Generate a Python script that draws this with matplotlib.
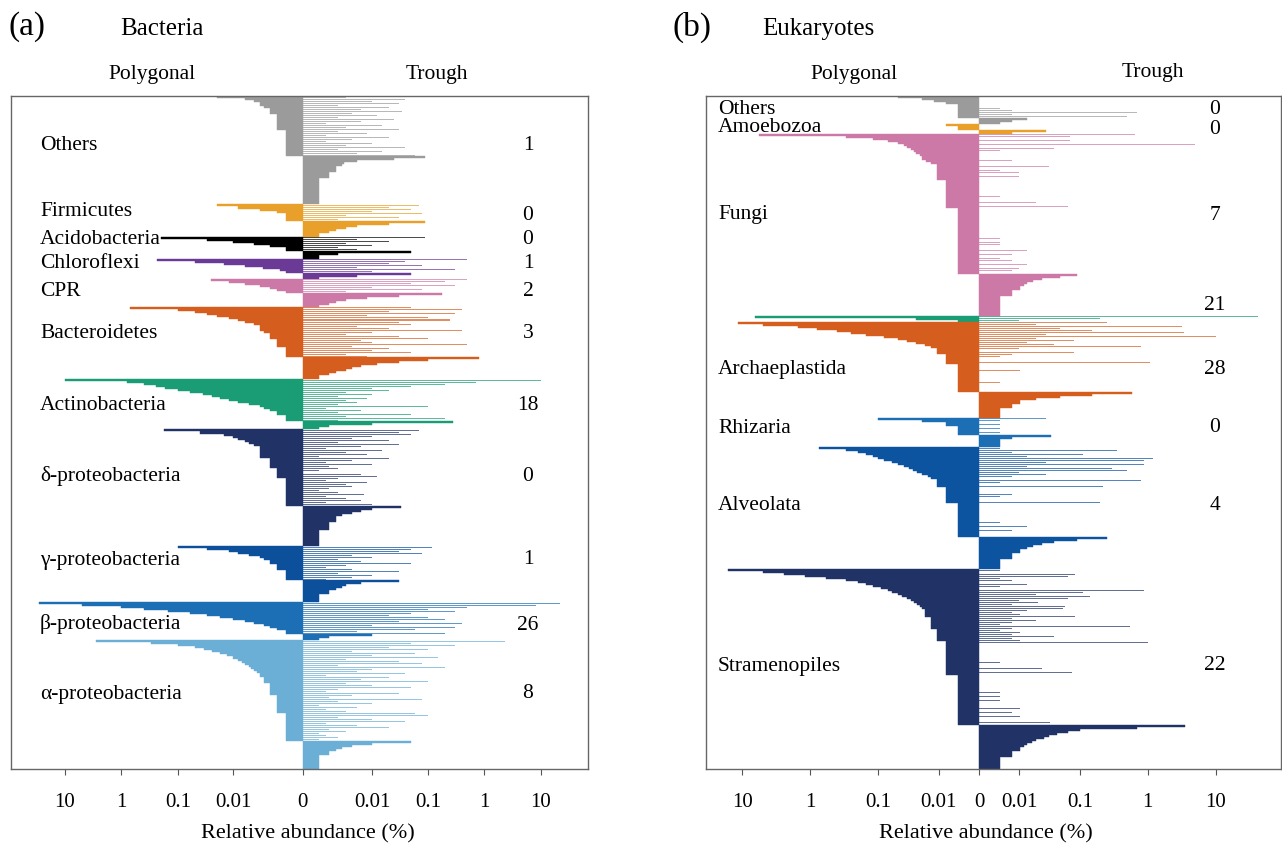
import numpy as np
import matplotlib.pyplot as plt

plt.rcParams['font.family'] = ['Liberation Serif', 'DejaVu Serif']

# ---------------- (a) Bacteria ----------------
# relative abundance (%) ; *_poly = polygonal abundance of OTUs found in polygonal,
# *_trough = trough abundance of the same OTUs, *_only = OTUs found only in trough
a_names = ['Others', 'Firmicutes', 'Acidobacteria', 'Chloroflexi', 'CPR', 'Bacteroidetes',
           'Actinobacteria', 'δ-proteobacteria', 'γ-proteobacteria', 'β-proteobacteria',
           'α-proteobacteria']
a_counts = ['1', '0', '0', '1', '2', '3', '18', '0', '1', '26', '8']
a_colors = ['#9b9b9b', '#e8a02a', '#000000', '#6b3a96', '#cc79a7', '#d55e1f',
            '#1a9c74', '#213266', '#0c4f9b', '#1c6fb5', '#6baed6']

a_others_poly = [0.02, 0.006, 0.004, 0.003, 0.003, 0.0024] + [0.0018] * 3 + [0.0012] * 8 + [0.0006] * 13
a_others_trough = [0.003, 0.04, 0.01, 0.03, 0.002, 0.02, 0.006, 0.035, 0.004, 0.012,
                   0.002, 0.025, 0.006, 0.001, 0.015, 0.003, 0.03, 0.002, 0.008, 0.001,
                   0.02, 0.004, 0.001, 0.01, 0.003, 0.04, 0.002, 0.015, 0.005, 0.06]
a_others_only = [0.09, 0.025, 0.005, 0.0027, 0.0024] + [0.0018] * 3 + [0.0012] * 3 + [0.0006] * 13

a_firm_poly = [0.02, 0.008, 0.003, 0.0012, 0.0006, 0.0006, 0.0006, 0.0006]
a_firm_trough = [0.07, 0.02, 0.05, 0.01, 0.08, 0.003, 0.03, 0.002]
a_firm_only = [0.09, 0.02, 0.005, 0.003, 0.0018, 0.0012, 0.0006, 0.0006]

a_acido_poly = [0.2, 0.03, 0.01, 0.004, 0.0018, 0.0006, 0.0006]
a_acido_trough = [0.09, 0.005, 0.02, 0.003, 0.01, 0.002, 0.005]
a_acido_only = [0.05, 0.002, 0.0006, 0.0006]

a_chloro_poly = [0.24, 0.05, 0.015, 0.006, 0.0025, 0.001, 0.0006]
a_chloro_trough = [0.5, 0.04, 0.02, 0.08, 0.005, 0.3, 0.01]
a_chloro_only = [0.05, 0.005, 0.0006]

a_cpr_poly = [0.026, 0.012, 0.006, 0.003, 0.0018, 0.0012, 0.0006]
a_cpr_trough = [0.5, 0.2, 0.05, 0.3, 0.01, 0.08, 0.003]
a_cpr_only = [0.18, 0.03, 0.008, 0.003, 0.0018, 0.0012, 0.0006]

a_bact_poly = [0.7, 0.1, 0.05, 0.03, 0.02, 0.012, 0.008, 0.006, 0.004] + [0.003] * 3 + [0.0024] \
    + [0.0018] * 3 + [0.0012] * 4 + [0.0006] * 5
a_bact_trough = [0.05, 0.4, 0.02, 0.3, 0.008, 0.1, 0.25, 0.03, 0.05, 0.005,
                 0.02, 0.4, 0.01, 0.003, 0.03, 0.1, 0.006, 0.01, 0.5, 0.004,
                 0.02, 0.01, 0.05, 0.003, 0.008]
a_bact_only = [0.8, 0.1, 0.03, 0.012, 0.006, 0.004, 0.003, 0.0018, 0.0012, 0.0006, 0.0006]

a_actino_poly = [10, 0.8, 0.4, 0.25, 0.17, 0.1, 0.06, 0.036, 0.025, 0.018, 0.012, 0.008,
                 0.005, 0.003, 0.0024, 0.0018, 0.0012, 0.0012, 0.0006, 0.0006, 0.0006]
a_actino_trough = [10, 0.7, 0.2, 0.05, 0.01, 0.02, 0.003, 0.01, 0.002, 0.008,
                   0.003, 0.005, 0.002, 0.1, 0.001, 0.006, 0.002, 0.05, 0.003, 0.2, 0.002]
a_actino_only = [0.28, 0.01, 0.0012, 0.0006]

a_delta_poly = [0.18, 0.04, 0.015, 0.01, 0.008, 0.006, 0.005, 0.004] + [0.003] * 6 \
    + [0.0018] * 5 + [0.0012] * 5 + [0.0006] * 14
a_delta_trough = [0.07, 0.03, 0.05, 0.01, 0.004, 0.02, 0.002, 0.03, 0.006, 0.001,
                  0.015, 0.003, 0.008, 0.0006, 0.02, 0.004, 0.001, 0.01, 0.0012, 0.002,
                  0.0006, 0, 0.006, 0.012, 0.002, 0.001, 0.008, 0.003, 0.004, 0.0012,
                  0.0006, 0.002, 0.007, 0.001, 0.003, 0.006, 0.001, 0.01]
a_delta_only = [0.033, 0.01, 0.006, 0.004, 0.0024] + [0.0018] * 3 + [0.0012] * 4 + [0.0006] * 8

a_gamma_poly = [0.1, 0.03, 0.012, 0.008, 0.005, 0.003, 0.0024, 0.0018, 0.0018, 0.0012,
                0.0012, 0.0012] + [0.0006] * 5
a_gamma_trough = [0.12, 0.05, 0.03, 0.08, 0.004, 0.01, 0.002, 0.006, 0.05, 0.003,
                  0.001, 0.004, 0.03, 0.002, 0.01, 0.004, 0.001]
a_gamma_only = [0.03, 0.006, 0.003, 0.0024, 0.0018, 0.0012, 0.0012] + [0.0006] * 4

a_beta_poly = [28, 5, 1, 0.4, 0.15, 0.06, 0.03, 0.018, 0.01, 0.006, 0.004, 0.0024,
               0.0018, 0.0012, 0.0006, 0.0006]
a_beta_trough = [22, 8, 0.5, 0.1, 0.3, 0.05, 0.02, 0.1, 0.2, 0.03, 0.4, 0.01, 0.3,
                 0.06, 0.005, 0.2]
a_beta_only = [0.01, 0.0012, 0.0006]

a_alpha_poly = [2.8, 0.3, 0.1, 0.05, 0.035, 0.025, 0.018, 0.013, 0.01, 0.008, 0.007,
                0.006, 0.005, 0.0045, 0.004, 0.0035, 0.003, 0.003, 0.0024, 0.0024,
                0.0024] + [0.0018] * 6 + [0.0012] * 9 + [0.0006] * 14
a_alpha_trough = [2.3, 0.05, 0.3, 0.02, 0.1, 0.004, 0.06, 0.01, 0.15, 0.003,
                  0.03, 0.08, 0.002, 0.2, 0.01, 0.005, 0.04, 0.001, 0.02, 0.006,
                  0.1, 0.003, 0.01, 0.05, 0.002, 0.001, 0.03, 0.004, 0.0012, 0.08,
                  0.002, 0.01, 0.0006, 0.005, 0.001, 0.003, 0.06, 0.1, 0.002, 0.01,
                  0.04, 0.001, 0.005, 0.02, 0.0012, 0.003, 0.0006, 0.001, 0.002, 0.0006]
a_alpha_only = [0.05, 0.01, 0.004, 0.0024, 0.0018, 0.0012, 0.0012] + [0.0006] * 7

# ---------------- (b) Eukaryotes ----------------
b_names = ['Others', 'Amoebozoa', 'Fungi', '', 'Archaeplastida', 'Rhizaria',
           'Alveolata', 'Stramenopiles']
b_counts = ['0', '0', '7', '21', '28', '0', '4', '22']
b_colors = ['#9b9b9b', '#e8a02a', '#cc79a7', '#1a9c74', '#d55e1f', '#1c6fb5',
            '#0c53a0', '#213266']

b_others_poly = [0.05, 0.02, 0.012, 0.007] + [0.0035] * 7
b_others_trough = [0, 0, 0, 0, 0, 0, 0.0035, 0.007, 0.7, 0.007, 0.5]
b_others_only = [0.014, 0.007, 0.0035]

b_amoeb_poly = [0.007, 0.0035, 0.0035]
b_amoeb_trough = [0, 0, 0]
b_amoeb_only = [0.03, 0.007]

b_fungi_poly = [5.6, 0.3, 0.12, 0.07, 0.05, 0.04, 0.035, 0.03, 0.027, 0.025, 0.022,
                0.02, 0.02, 0.017, 0.014] + [0.0105] * 8 + [0.007] * 14 + [0.0035] * 33
b_fungi_trough = [0.65, 0.07, 0, 0.07, 0, 4.9, 0, 0.04, 0.0035, 0,
                  0, 0, 0, 0.007, 0, 0, 0.033, 0, 0.0035, 0.01,
                  0, 0.01, 0, 0, 0, 0, 0, 0, 0, 0,
                  0, 0.0035, 0, 0, 0.02, 0, 0.065, 0, 0, 0,
                  0, 0, 0, 0, 0, 0, 0, 0, 0, 0,
                  0, 0, 0.0035, 0, 0.0035, 0.0035, 0, 0, 0.014, 0,
                  0.007, 0, 0.0035, 0.007, 0, 0.014, 0, 0.01, 0.007, 0]
b_fungi_only = [0.09, 0.05, 0.025, 0.018, 0.014, 0.012, 0.0105, 0.0105] + [0.007] * 3 + [0.0035] * 10

b_green_poly = [6.5, 0.025, 0.0035]
b_green_trough = [42, 0.2, 0.01]
b_green_only = []

b_archae_poly = [11.6, 5, 1.5, 0.8, 0.4, 0.25, 0.15, 0.08, 0.05, 0.035, 0.025, 0.018,
                 0.014, 0.0105, 0.0105, 0.0105] + [0.007] * 5 + [0.0035] * 14
b_archae_trough = [0.25, 0.02, 3.2, 0.05, 0.15, 3.4, 0.03, 10, 0.02, 0.08,
                   0.014, 0.04, 0.8, 0.01, 0, 0.08, 0.007, 0.0035, 0, 0,
                   1.1, 0, 0, 0, 0.0105, 0, 0, 0, 0, 0,
                   0.0035, 0, 0, 0, 0]
b_archae_only = [0.6, 0.15, 0.05, 0.02, 0.0105, 0.0105, 0.007, 0.007] + [0.0035] * 5

b_rhiz_poly = [0.1, 0.02, 0.007, 0.007] + [0.0035] * 5
b_rhiz_trough = [0.03, 0.0035, 0, 0.0035, 0, 0.0035, 0, 0.0035, 0]
b_rhiz_only = [0.036, 0.007, 0.0035, 0.0035, 0.0035, 0.0035]

b_alveo_poly = [0.75, 0.3, 0.2, 0.15, 0.12, 0.1, 0.08, 0.06, 0.05, 0.04, 0.033, 0.028,
                0.024, 0.02, 0.016, 0.014, 0.0105, 0.0105, 0.0105, 0.0105] \
    + [0.007] * 8 + [0.0035] * 17
b_alveo_trough = [0.0035, 0.35, 0.007, 0.11, 0.014, 1.2, 0.9, 0.03, 0.9, 0.014,
                  0.3, 0.5, 0.01, 0.03, 0.007, 0, 0.8, 0.0035, 0, 0.22,
                  0, 0, 0, 0.007, 0.0035, 0, 0, 0.2, 0, 0,
                  0, 0, 0, 0, 0, 0, 0, 0.0035, 0, 0.014,
                  0, 0.007, 0, 0, 0]
b_alveo_only = [0.25, 0.09, 0.04, 0.025, 0.018, 0.014, 0.0105, 0.0105, 0.007, 0.007,
                0.007] + [0.0035] * 5

b_stram_poly = [16, 5, 2.4, 1.2, 0.6, 0.3, 0.2, 0.15, 0.12, 0.09, 0.07, 0.06, 0.05,
                0.042, 0.035, 0.03, 0.027, 0.024, 0.022, 0.02] + [0.018] * 4 \
    + [0.014] * 6 + [0.0105] * 6 + [0.007] * 17 + [0.0035] * 25
b_stram_trough = [0.0035, 0, 0.085, 0.065, 0.0035, 0.007, 0, 0.014, 0.0035, 0,
                  0.9, 0.11, 0.02, 0.14, 0.065, 0.01, 0.022, 0.007, 0.06, 0.055,
                  0.014, 0.007, 0.0105, 0.085, 0.007, 0.02, 0.007, 0.0035, 0.55, 0.007,
                  0.0035, 0.0105, 0.007, 0.04, 0.007, 0.0105, 1.0, 0, 0, 0,
                  0, 0, 0, 0, 0, 0, 0.0035, 0, 0, 0.025,
                  0, 0.075, 0, 0, 0, 0, 0, 0, 0, 0,
                  0, 0.0035, 0, 0.0035, 0, 0.0035, 0, 0, 0, 0.0105,
                  0, 0.007, 0, 0.0105, 0, 0, 0.034, 0]
b_stram_only = [3.6, 0.7, 0.1, 0.065, 0.045, 0.033, 0.027, 0.02, 0.017, 0.014, 0.012,
                0.0105, 0.0105, 0.007, 0.007, 0.007] + [0.0035] * 6

a_groups = [
    (a_others_poly, a_others_trough, a_others_only),
    (a_firm_poly, a_firm_trough, a_firm_only),
    (a_acido_poly, a_acido_trough, a_acido_only),
    (a_chloro_poly, a_chloro_trough, a_chloro_only),
    (a_cpr_poly, a_cpr_trough, a_cpr_only),
    (a_bact_poly, a_bact_trough, a_bact_only),
    (a_actino_poly, a_actino_trough, a_actino_only),
    (a_delta_poly, a_delta_trough, a_delta_only),
    (a_gamma_poly, a_gamma_trough, a_gamma_only),
    (a_beta_poly, a_beta_trough, a_beta_only),
    (a_alpha_poly, a_alpha_trough, a_alpha_only),
]
b_groups = [
    (b_others_poly, b_others_trough, b_others_only),
    (b_amoeb_poly, b_amoeb_trough, b_amoeb_only),
    (b_fungi_poly, b_fungi_trough, b_fungi_only),
    (b_green_poly, b_green_trough, b_green_only),
    (b_archae_poly, b_archae_trough, b_archae_only),
    (b_rhiz_poly, b_rhiz_trough, b_rhiz_only),
    (b_alveo_poly, b_alveo_trough, b_alveo_only),
    (b_stram_poly, b_stram_trough, b_stram_only),
]

W, H = 1282, 844


def px(x, y):
    return x / W, 1 - y / H


def pseudo_log(c):
    def fwd(x):
        x = np.asarray(x, dtype=float)
        return np.sign(x) * (np.log10(np.abs(x) + c) - np.log10(c))

    def inv(y):
        y = np.asarray(y, dtype=float)
        return np.sign(y) * c * (10 ** np.abs(y) - 1)
    return fwd, inv


def draw_panel(ax, groups, colors, c, xlim):
    ax.set_xscale('function', functions=pseudo_log(c))
    y0 = 0
    for (poly, trough, only), col in zip(groups, colors):
        n = len(poly)
        rows = y0 + np.arange(n) + 0.5
        ax.barh(rows, -np.array(poly), height=1.0, left=0, color=col,
                edgecolor=col, linewidth=0.3)
        t = np.array(trough[:n], dtype=float)
        ax.barh(rows[:len(t)], t, height=0.5, left=0, color=col, alpha=0.7, linewidth=0)
        if len(only):
            rows2 = y0 + n + np.arange(len(only)) + 0.5
            ax.barh(rows2, only, height=1.0, left=0, color=col, edgecolor=col, linewidth=0.3)
        y0 += n + len(only)
    ax.set_ylim(y0, 0)
    ax.set_xlim(*xlim)
    ticks = [-10, -1, -0.1, -0.01, 0, 0.01, 0.1, 1, 10]
    ax.set_xticks(ticks)
    ax.set_xticklabels(['10', '1', '0.1', '0.01', '0', '0.01', '0.1', '1', '10'])
    ax.xaxis.set_minor_locator(plt.NullLocator())
    ax.set_yticks([])
    ax.tick_params(axis='x', direction='out', length=4, pad=13, labelsize=15,
                   color='#555555')
    for s in ax.spines.values():
        s.set_color('#666666')
        s.set_linewidth(1.0)


fig = plt.figure(figsize=(W / 100, H / 100), dpi=100)
ax_a = fig.add_axes([11 / W, 1 - 769 / H, 577 / W, 673 / H])
ax_b = fig.add_axes([706 / W, 1 - 769 / H, 575 / W, 673 / H])

draw_panel(ax_a, a_groups, a_colors, 0.00063, (-89, 67.5))
draw_panel(ax_b, b_groups, b_colors, 0.00345, (-33.7, 89.7))

# titles and headers
fig.text(*px(8, 27), '(a)', fontsize=24, va='center', ha='left')
fig.text(*px(120, 29), 'Bacteria', fontsize=18, va='center', ha='left')
fig.text(*px(152, 74), 'Polygonal', fontsize=15.5, va='center', ha='center')
fig.text(*px(437, 74), 'Trough', fontsize=15.5, va='center', ha='center')
fig.text(*px(673, 27), '(b)', fontsize=24, va='center', ha='left')
fig.text(*px(762, 29), 'Eukaryotes', fontsize=18, va='center', ha='left')
fig.text(*px(854, 74), 'Polygonal', fontsize=15.5, va='center', ha='center')
fig.text(*px(1153, 73), 'Trough', fontsize=15.5, va='center', ha='center')
fig.text(*px(308, 834), 'Relative abundance (%)', fontsize=16, va='center', ha='center')
fig.text(*px(986, 834), 'Relative abundance (%)', fontsize=16, va='center', ha='center')

# group labels (layout positions in pixels)
a_label_y = [145, 211, 239, 263, 291, 334, 405, 476, 560, 624, 694]
a_num_y = [145, 215, 239, 263, 292, 334, 405, 476, 560, 625, 694]
for name, num, yl, yn in zip(a_names, a_counts, a_label_y, a_num_y):
    fig.text(*px(40, yl), name, fontsize=15.5, va='center', ha='left')
    fig.text(*px(528, yn), num, fontsize=15.5, va='center', ha='center')

b_label_y = [110, 127, 215, 0, 370, 429, 505, 666]
b_num_y = [109, 129, 215, 305, 370, 428, 505, 666]
for name, num, yl, yn in zip(b_names, b_counts, b_label_y, b_num_y):
    if name:
        fig.text(*px(718, yl), name, fontsize=15.5, va='center', ha='left')
    fig.text(*px(1215, yn), num, fontsize=15.5, va='center', ha='center')

fig.savefig('out.png', dpi=100)
